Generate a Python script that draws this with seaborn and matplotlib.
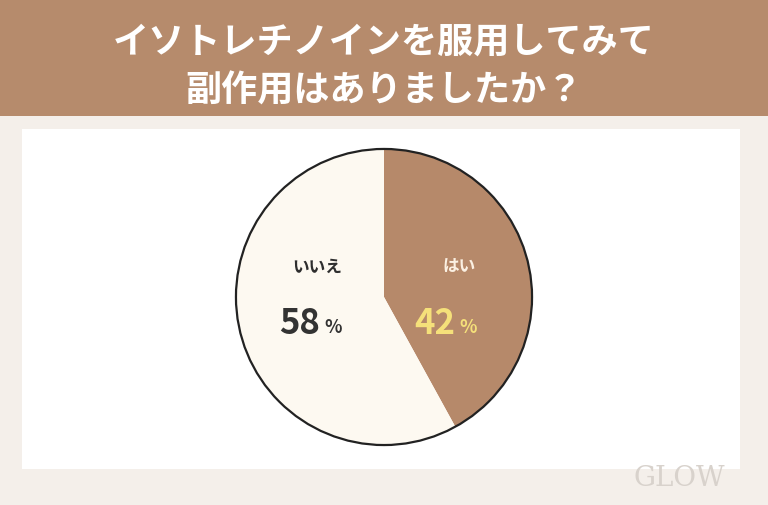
import matplotlib.pyplot as plt
import matplotlib.patches as mpatches
import seaborn as sns

labels = ["はい", "いいえ"]
values = [42, 58]
colors = ["#B6896A", "#FDF9F1"]
title = "イソトレチノインを服用してみて\n副作用はありましたか？"

sns.set_theme(style="white")
plt.rcParams['font.family'] = ['Noto Sans CJK JP', 'DejaVu Sans']

fig = plt.figure(figsize=(7.68, 5.06), dpi=100)
fig.patch.set_facecolor("#F4EFEA")

# header band and white panel
fig.patches.append(mpatches.Rectangle((0, 1 - 117 / 506), 1, 117 / 506, transform=fig.transFigure,
                                      facecolor="#B68B6C", edgecolor="none", zorder=-2))
fig.patches.append(mpatches.Rectangle((22 / 768, 36 / 506), 718 / 768, 340 / 506, transform=fig.transFigure,
                                      facecolor="white", edgecolor="none", zorder=-2))
fig.text(0.5, 1 - 67 / 506, title, ha="center", va="center", color="white",
         fontsize=26, fontweight="bold", linespacing=1.42)
fig.text(0.885, 0.055, "GLOW", ha="center", va="center", color="#D8D2CC",
         fontsize=20, family="DejaVu Serif")

ax = fig.add_axes([233 / 768, 57 / 506, 302 / 768, 302 / 506])
ax.set_zorder(2)
ax.pie(values, colors=colors, startangle=90, counterclock=False,
       wedgeprops=dict(linewidth=0))
ax.add_patch(mpatches.Circle((0, 0), 1, fill=False, edgecolor="#222222", linewidth=1.6))
ax.set_xlim(-1.02, 1.02)
ax.set_ylim(-1.02, 1.02)
ax.set_aspect("equal")
ax.axis("off")

ax.text(0.51, 0.21, labels[0], ha="center", va="center", color="#FBF0E2",
        fontsize=12, fontweight="bold")
ax.text(0.48, -0.17, str(values[0]), ha="right", va="center", color="#F5E07A",
        fontsize=25, fontweight="bold")
ax.text(0.51, -0.20, "%", ha="left", va="center", color="#F5E07A",
        fontsize=13, fontweight="bold")
ax.text(-0.45, 0.21, labels[1], ha="center", va="center", color="#2E2E2E",
        fontsize=12, fontweight="bold")
ax.text(-0.43, -0.17, str(values[1]), ha="right", va="center", color="#333333",
        fontsize=25, fontweight="bold")
ax.text(-0.40, -0.20, "%", ha="left", va="center", color="#333333",
        fontsize=13, fontweight="bold")

fig.savefig("out.png", dpi=100)
